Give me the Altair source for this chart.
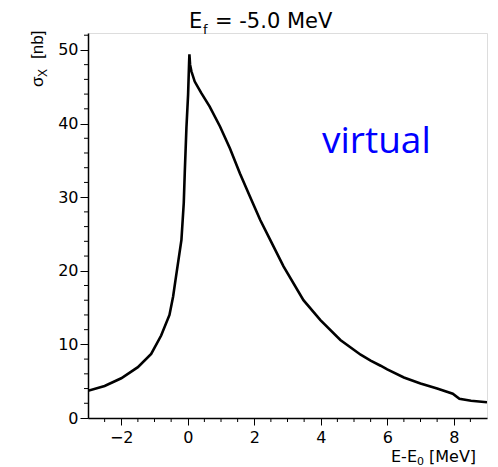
import altair as alt
import pandas as pd

# ---- data ----
energy = [-3.0, -2.5, -2.0, -1.5, -1.1, -0.8, -0.55, -0.44, -0.37, -0.19, -0.12, -0.09,
          -0.04, 0.01, 0.04, 0.05, 0.07, 0.11, 0.21, 0.4, 0.66, 0.97, 1.27, 1.57, 1.87,
          2.18, 2.48, 2.88, 3.48, 3.99, 4.59, 5.2, 5.5, 5.8, 6.0, 6.5, 7.0, 7.5, 7.97,
          8.17, 8.52, 9.0]
sigma = [3.7, 4.35, 5.4, 6.9, 8.7, 11.2, 14.0, 16.5, 18.7, 24.2, 29.2, 33.3,
         39.4, 43.9, 48.2, 49.4, 48.0, 47.1, 45.7, 44.2, 42.3, 39.6, 36.6, 33.2, 30.1,
         26.9, 24.2, 20.6, 16.0, 13.3, 10.6, 8.6, 7.8, 7.1, 6.6, 5.5, 4.7, 4.0, 3.3,
         2.6, 2.35, 2.13]

x_major = [-2, 0, 2, 4, 6, 8]
x_minor = [-2.5, -1.5, -1, -0.5, 0.5, 1, 1.5, 2.5, 3, 3.5, 4.5, 5, 5.5, 6.5, 7, 7.5, 8.5]
y_major = [0, 10, 20, 30, 40, 50]
y_minor = [2, 4, 6, 8, 12, 14, 16, 18, 22, 24, 26, 28, 32, 34, 36, 38, 42, 44, 46, 48, 52]
x_domain = [-3, 9]
y_domain = [0, 52.3]

title_main = "E"
title_sub = "f"
title_rest = "= -5.0 MeV"
ylab_main = "σ"
ylab_sub = "X"
ylab_rest = "[nb]"
xlab_main = "E-E"
xlab_sub = "0"
xlab_rest = "[MeV]"
annotation = "virtual"

df = pd.DataFrame({"E": energy, "sigma": sigma})

W, H = 399, 385

x_scale = alt.Scale(domain=x_domain, nice=False, zero=False)
y_scale = alt.Scale(domain=y_domain, nice=False, zero=False)

x_axis = alt.Axis(
    values=x_major, title=None, grid=False, format="~g",
    domainColor="black", domainWidth=1.5, tickColor="black", tickWidth=1, tickSize=7,
    labelFont="DejaVu Sans", labelFontSize=16, labelColor="black",
    labelPadding=4, labelFlush=False, labelOverlap=False,
)
y_axis = alt.Axis(
    values=y_major, title=None, grid=False, format="~g",
    domainColor="black", domainWidth=1.5, tickColor="black", tickWidth=1, tickSize=8,
    labelFont="DejaVu Sans", labelFontSize=16, labelColor="black",
    labelPadding=2, labelFlush=False, labelOverlap=False,
)

line = alt.Chart(df).mark_line(color="black", strokeWidth=2.6, clip=True).encode(
    x=alt.X("E:Q", scale=x_scale, axis=x_axis),
    y=alt.Y("sigma:Q", scale=y_scale, axis=y_axis),
    order="E:Q",
)

xminor_rules = alt.Chart(pd.DataFrame({"v": x_minor})).mark_rule(
    color="black", strokeWidth=1
).encode(x=alt.X("v:Q", scale=x_scale), y=alt.value(H), y2=alt.value(H + 4))

yminor_rules = alt.Chart(pd.DataFrame({"v": y_minor})).mark_rule(
    color="black", strokeWidth=1
).encode(y=alt.Y("v:Q", scale=y_scale), x=alt.value(-4), x2=alt.value(0))


def txt(s, x, y, size, font="DejaVu Sans", color="black", angle=0, align="left"):
    kw = dict(font=font, fontSize=size, color=color, align=align, baseline="alphabetic")
    if angle:
        kw["angle"] = angle
    return alt.Chart(pd.DataFrame({"t": [s]})).mark_text(**kw).encode(
        x=alt.value(x), y=alt.value(y), text="t:N"
    )


texts = [
    txt(title_main, 101, -5, 21),
    txt(title_sub, 115, 1, 13),
    txt(title_rest, 127, -5, 21),
    txt(ylab_main, -45, 54, 17, font="Liberation Sans", angle=270),
    txt(ylab_sub, -41, 44, 12, font="Liberation Sans", angle=270),
    txt(ylab_rest, -45, 26, 17, font="Liberation Sans", angle=270),
    txt(xlab_main, 303, 429, 16),
    txt(xlab_sub, 329, 432, 11),
    txt(xlab_rest, 341, 429, 16),
    txt(annotation, 234, 120, 37, font="Open Sans", color="#0000ff"),
]

chart = alt.layer(line, xminor_rules, yminor_rules, *texts).properties(
    width=W, height=H,
    padding={"left": 80, "top": 25, "right": 3, "bottom": 51},
    autosize=alt.AutoSizeParams(type="none"),
).configure_view(stroke="black", strokeWidth=1.5).configure(background="white")

chart.save("out.html", embed_options={"renderer": "svg", "actions": False})
